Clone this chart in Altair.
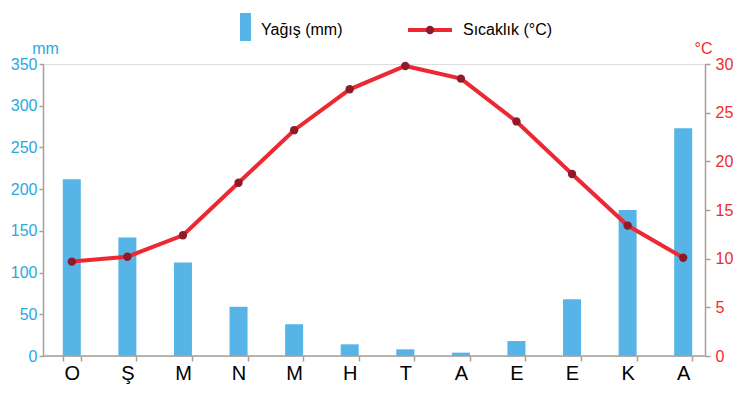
import altair as alt
import pandas as pd

months = ["O", "Ş", "M", "N", "M", "H", "T", "A", "E", "E", "K", "A"]
rain = [212, 142, 112, 59, 38, 14, 8, 4, 18, 68, 175, 273]
temp = [9.7, 10.2, 12.4, 17.8, 23.2, 27.4, 29.8, 28.5, 24.1, 18.7, 13.4, 10.1]
rain_ticks = [0, 50, 100, 150, 200, 250, 300, 350]
temp_ticks = [0, 5, 10, 15, 20, 25, 30]

BLUE = "#56b5e6"
BLUE_TXT = "#2aa8e0"
RED = "#ec2833"
RED_TXT = "#ef2b2b"
DARK = "#8e1b2a"
AX = "#a89f97"
FONT = "Arial"

W, H = 662, 292

df = pd.DataFrame({"i": list(range(len(months))), "rain": rain, "temp": temp})
label_expr = "[" + ",".join("'%s'" % m for m in months) + "][datum.value]"

x = alt.X(
    "i:O",
    scale=alt.Scale(range=[1, 668], paddingInner=0.676, paddingOuter=0.338),
    axis=alt.Axis(
        title=None, labelExpr=label_expr, labelAngle=0, domain=False,
        tickBand="extent", tickSize=5, tickColor=AX, tickWidth=1.5,
        labelFontSize=20, labelColor="black", labelPadding=2, labelFont=FONT,
    ),
)

bars = alt.Chart(df).mark_bar(color=BLUE).encode(
    x=x,
    y=alt.Y(
        "rain:Q",
        scale=alt.Scale(domain=[0, 350], nice=False),
        axis=alt.Axis(
            orient="left", values=rain_ticks, grid=False, title="mm",
            titleAngle=0, titleX=2, titleY=-11, titleAlign="center",
            titleBaseline="alphabetic", titleColor=BLUE_TXT, titleFontSize=16,
            titleFontWeight="normal", titleFont=FONT,
            labelColor=BLUE_TXT, labelFontSize=16, labelFont=FONT, labelPadding=2,
            domainColor=AX, domainWidth=1.5, tickColor=AX, tickWidth=1.5, tickSize=4,
        ),
    ),
)

line = alt.Chart(df).mark_line(
    color=RED, strokeWidth=4,
    point=alt.OverlayMarkDef(filled=True, color=DARK, size=70, opacity=1),
).encode(
    x=x,
    y=alt.Y(
        "temp:Q",
        scale=alt.Scale(domain=[0, 30], nice=False),
        axis=alt.Axis(
            orient="right", values=temp_ticks, grid=False, title="°C",
            titleAngle=0, titleX=-2, titleY=-11, titleAlign="center",
            titleBaseline="alphabetic", titleColor=RED_TXT, titleFontSize=16,
            titleFontWeight="normal", titleFont=FONT,
            labelColor=RED_TXT, labelFontSize=16, labelFont=FONT, labelPadding=5,
            domainColor=AX, domainWidth=1.5, tickColor=AX, tickWidth=1.5, tickSize=5,
        ),
    ),
)

one = pd.DataFrame({"k": [0]})

baseline = alt.Chart(one).mark_rule(color=AX, strokeWidth=1.5).encode(
    x=alt.value(0), x2=alt.value(W), y=alt.value(H)
)

leg_rect = alt.Chart(one).mark_rect(color=BLUE).encode(
    x=alt.value(197), x2=alt.value(208), y=alt.value(-51), y2=alt.value(-23)
)
leg_text1 = alt.Chart(one).mark_text(
    align="left", baseline="alphabetic", fontSize=16, font=FONT, color="black"
).encode(x=alt.value(218), y=alt.value(-29), text=alt.value("Yağış (mm)"))

leg_line = alt.Chart(one).mark_rule(color=RED, strokeWidth=4).encode(
    x=alt.value(365), x2=alt.value(409), y=alt.value(-34)
)
leg_pt = alt.Chart(one).mark_point(filled=True, color=DARK, size=70, opacity=1).encode(
    x=alt.value(387), y=alt.value(-34)
)
leg_text2 = alt.Chart(one).mark_text(
    align="left", baseline="alphabetic", fontSize=16, font=FONT, color="black"
).encode(x=alt.value(420), y=alt.value(-29), text=alt.value("Sıcaklık (°C)"))

chart = alt.layer(
    bars, line, baseline, leg_rect, leg_text1, leg_line, leg_pt, leg_text2
).resolve_scale(y="independent").properties(
    width=W, height=H,
    padding={"left": 35, "top": 56, "right": 28, "bottom": 30},
    autosize=alt.AutoSizeParams(type="none"),
).configure_view(stroke=None).configure(background="white")

chart.save("out.html", embed_options={"renderer": "svg", "actions": False})
